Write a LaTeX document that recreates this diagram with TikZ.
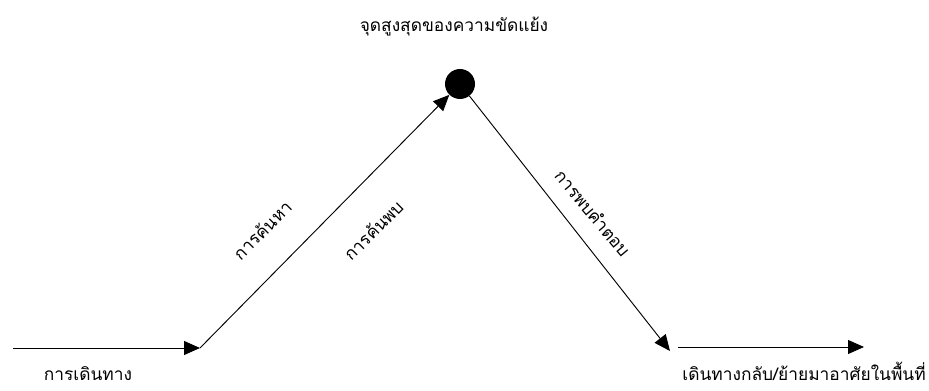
\documentclass[tikz,border=0pt]{standalone}
\usepackage{fontspec}
\newfontfamily\thaifont[Script=Thai]{Loma}
\usetikzlibrary{arrows.meta, positioning, calc}
\tikzset{
  thailabel/.style={font=\thaifont\fontsize{13}{15}\selectfont, inner sep=0pt},
  peaknode/.style={circle, fill=black, minimum size=22.5pt, inner sep=0pt},
  plotarrow/.style={-{Triangle[length=12pt, width=10.5pt]}, line width=0.7pt},
}

\begin{document}
\begin{tikzpicture}[x=0.75pt, y=-0.75pt]
  \useasboundingbox (0,0) rectangle (929,391);
  \coordinate (begin) at (13,348);
  \coordinate (turn) at (200,348);
  \node[peaknode] (peak) at (460,84) {};
  \coordinate (dip) at (670,351);
  \coordinate (back) at (678,347);
  \coordinate (finish) at (864,347);
  \draw[plotarrow] (begin) -- (turn);
  \draw[plotarrow] (turn) -- (peak);
  \draw[plotarrow] (peak) -- (dip);
  \draw[plotarrow] (back) -- (finish);
  \node[thailabel, anchor=base] (climax) at (454,32) {จุดสูงสุดของความขัดแย้ง};
  \node[thailabel, anchor=base] (journey) at (88,381) {การเดินทาง};
  \node[thailabel, anchor=base east] (homecoming) at (926,381) {เดินทางกลับ/ย้ายมาอาศัยในพื้นที่};
  \node[thailabel, rotate=45] (search) at (262,230) {การค้นหา};
  \node[thailabel, rotate=45] (discovery) at (373,230) {การค้นพบ};
  \node[thailabel, rotate=-50] (answer) at (593,213) {การพบคำตอบ};
\end{tikzpicture}
\end{document}
